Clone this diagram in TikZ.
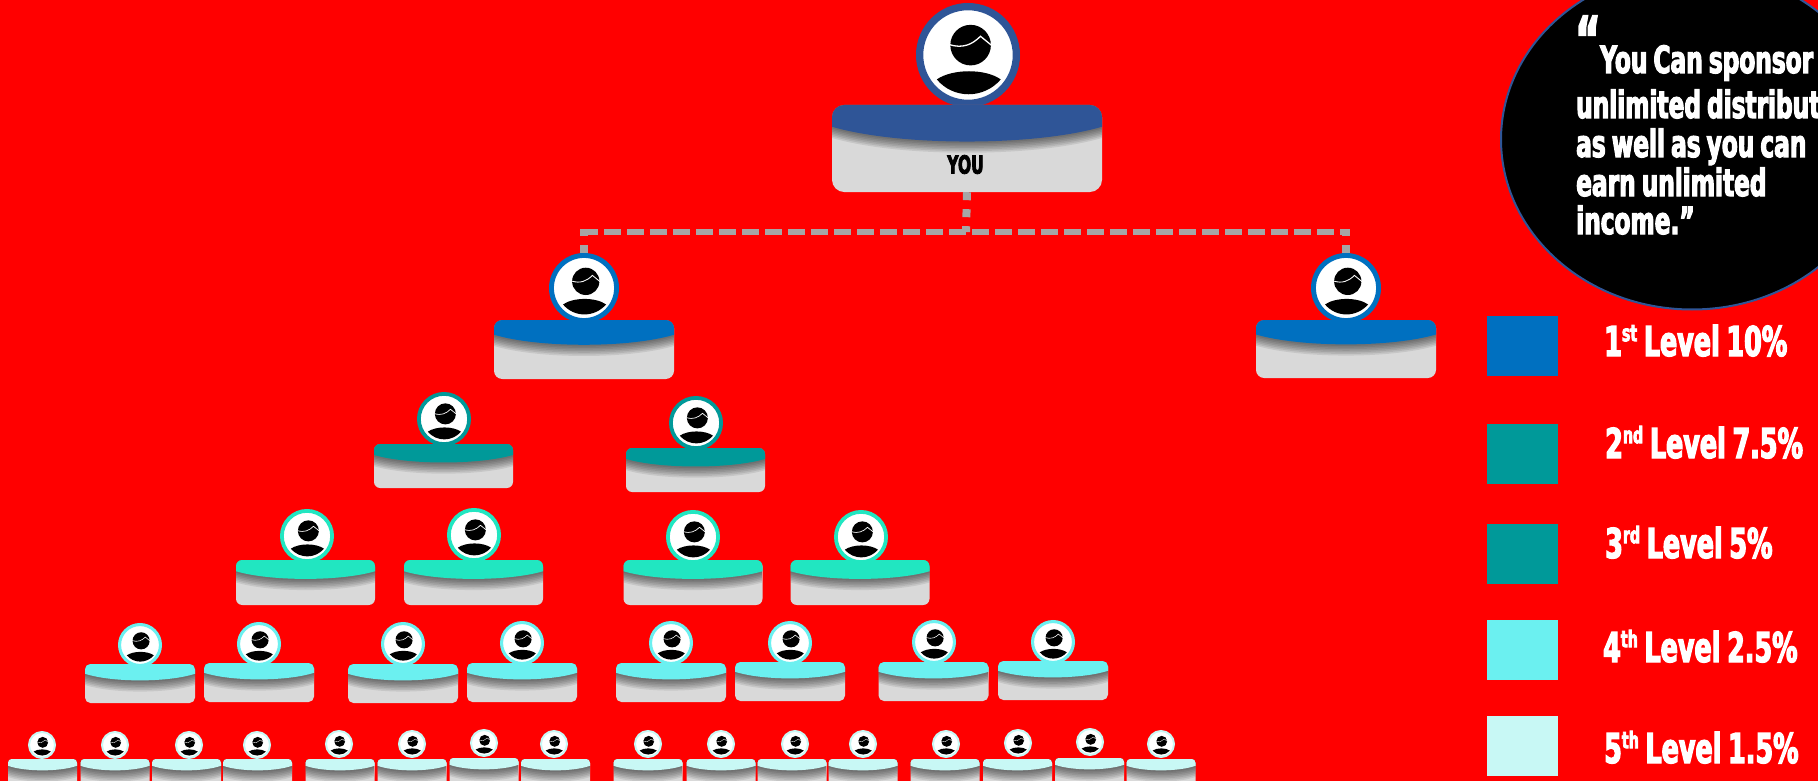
\documentclass[tikz,border=0pt]{standalone}
\usepackage{fontspec}
\usetikzlibrary{shapes.geometric}
\newfontfamily\impactfont[FakeStretch=0.62,FakeBold=3,WordSpace=0.75]{DejaVu Sans Bold}
\definecolor{bgred}{HTML}{FF0000}
\definecolor{topblue}{HTML}{2F5597}
\definecolor{levA}{HTML}{0070C0}
\definecolor{levB}{HTML}{009999}
\definecolor{levC}{HTML}{21E6C1}
\definecolor{levD}{HTML}{6BF0F0}
\definecolor{levE}{HTML}{C8F8F5}
\definecolor{cardgray}{HTML}{D9D9D9}
\definecolor{linkgray}{HTML}{A6A6A6}
\tikzset{
  cardbox/.style={fill=cardgray, inner sep=0pt},
  avatar/.style={circle, fill=white, inner sep=0pt},
  swatch/.style={inner sep=0pt, minimum width=71pt, minimum height=60pt},
  busline/.style={linkgray, line width=6pt, dash pattern=on 17pt off 6pt},
  dropline/.style={linkgray, line width=8pt, dash pattern=on 8pt off 9pt},
  quotetext/.style={anchor=base west, inner sep=0pt, text=white, font=\impactfont\fontsize{37.5}{37.5}\selectfont},
  legendtext/.style={anchor=base west, inner sep=0pt, text=white, font=\impactfont\fontsize{41}{41}\selectfont},
}
\newcommand{\lvsup}[1]{\raisebox{0.36em}{\fontsize{23}{23}\selectfont #1}}
% name, centre x, card top, width, height, avatar x, avatar y, avatar radius, colour
\newcommand{\member}[9]{%
  \pgfmathsetmacro{\bw}{max(1.5,0.14*#8)}
  \pgfmathsetmacro{\asize}{2*#8-\bw}
  \pgfmathsetmacro{\rc}{0.14*#5}
  \pgfmathsetmacro{\xa}{#2-#4/2}
  \pgfmathsetmacro{\xb}{#2+#4/2}
  \pgfmathsetmacro{\ys}{#3+0.25*#5}
  \pgfmathsetmacro{\yc}{#3+0.25*#5+0.17*#5/0.75}
  \pgfmathsetmacro{\xc}{#4/4}
  \node [avatar, draw=#9, line width=\bw pt, minimum size=\asize pt] (#1av) at (#6,#7) {};
  \begin{scope}[shift={(#1av.center)}, scale=#8]
    \fill (0.05,-0.19) circle (0.39);
    \draw[white, line width=0.025*#8 pt] (-0.36,-0.2) .. controls (-0.1,-0.12) and (0.08,-0.2) .. (0.24,-0.36) -- (0.46,-0.18);
    \fill (-0.6,0.47) .. controls (-0.3,0.26) and (0.34,0.26) .. (0.63,0.47) .. controls (0.3,0.85) and (-0.28,0.85) .. cycle;
  \end{scope}
  \node [cardbox, rounded corners=\rc pt, minimum width=#4 pt, minimum height=#5 pt] (#1) at (#2,#3+#5/2) {};
  \begin{scope}
    \clip [rounded corners=\rc pt] (\xa,#3) rectangle (\xb,#3+#5);
    \foreach \k in {1,...,7} {   %soft shadow under the band
      \fill[black, opacity=0.085] (\xa,#3) -- (\xb,#3) -- (\xb,\ys+1.6*\k) .. controls (\xb-\xc,\yc+1.6*\k) and (\xa+\xc,\yc+1.6*\k) .. (\xa,\ys+1.6*\k) -- cycle;
    }
  \end{scope}
  \fill[#9] (\xa,\ys) [rounded corners=\rc pt] -- (\xa,#3) -- (\xb,#3) [sharp corners] -- (\xb,\ys) .. controls (\xb-\xc,\yc) and (\xa+\xc,\yc) .. (\xa,\ys) -- cycle;
}

\begin{document}
\begin{tikzpicture}[x=1pt, y=-1pt]
  \useasboundingbox (0,0) rectangle (1818,781);
  \clip (0,0) rectangle (1818,781);
  \fill[bgred] (0,0) rectangle (1818,781);

  \member{you}{967}{105}{270}{87}{968}{55}{52}{topblue}
  \node [inner sep=0pt, font=\impactfont\fontsize{25}{25}\selectfont] (youtext) at (965.5,164.5) {YOU};

  \member{lvAa}{584}{320}{180}{59}{584}{288}{35}{levA}
  \member{lvAb}{1346}{320}{180}{58}{1346}{288}{35}{levA}

  \foreach \cx/\ctop/\ax/\ay [count=\i] in {443.5/444/444/419, 695.5/448/696/423} {   %second level
    \member{lvB\i}{\cx}{\ctop}{139}{44}{\ax}{\ay}{27}{levB}
  }
  \foreach \cx/\ctop/\ax/\ay [count=\i] in {305.5/560/307/536, 473.5/560/474/535, 693/560/693/537, 860/560/861/537} {   %third level
    \member{lvC\i}{\cx}{\ctop}{139}{45}{\ax}{\ay}{27}{levC}
  }
  \foreach \cx/\ctop/\ax/\ay [count=\i] in {140/664/140/645, 259/663/259/644, 403/664/403/644, 522/663/522/643,
                                        671/663/671/643, 790/662/790/643, 933.5/662/934/642, 1053/661/1053/642} {   %fourth level
    \member{lvD\i}{\cx}{\ctop}{110}{39}{\ax}{\ay}{22}{levD}
  }
  \foreach \cx/\ctop/\ax/\ay [count=\i] in {42.5/759/42/745, 115/759/115/745, 186.5/759/189/745, 257.5/759/257/745,
                                        340/759/339/744, 412/759/412/744, 484/758/484/743, 555.5/759/554/744,
                                        648/759/648/744, 721/759/721/744, 792/759/795/744, 863/759/863/744,
                                        945/759/946/744, 1017.5/759/1018/743, 1089.5/758/1090/742, 1161/759/1161/744} {   %fifth level, cut by the page edge
    \member{lvE\i}{\cx}{\ctop}{69}{27}{\ax}{\ay}{14}{levE}
  }

  %links under the top card
  \coordinate (busmid) at (966,232);
  \coordinate (busleft) at (581,232);
  \coordinate (busright) at (1350,232);
  \coordinate (dropleft) at (584,229);
  \coordinate (dropright) at (1346,229);
  \draw[busline] (busleft) -- (busright);
  \draw[dropline] (you.south) -- (busmid);
  \draw[dropline] (lvAaav.north) -- (dropleft);
  \draw[dropline] (lvAbav.north) -- (dropright);

  \node [ellipse, draw=topblue, fill=black, line width=2pt, inner sep=0pt, minimum width=382pt, minimum height=340pt] (bubble) at (1692,139.5) {};
  \node [quotetext, font=\impactfont\fontsize{62}{62}\selectfont] (quotemark) at (1575,61) {“};
  \foreach \tx/\ty/\line [count=\i] in {1600/73/You Can sponsor, 1576/118/unlimited distribut, 1576/157/as well as you can,
                                        1576/196/earn unlimited, 1576/234/income.”} {   %one node for each line of the quote
    \node [quotetext] (quote\i) at (\tx,\ty) {\line};
  }

  \foreach \ly/\col [count=\i] in {316/levA, 424/levB, 524/levB, 620/levD, 716/levE} {   %colour keys
    \node [swatch, anchor=north west, fill=\col] (key\i) at (1487,\ly) {};
  }
  \node [legendtext] (lab1) at (1604,356) {1\lvsup{st} Level 10\%};
  \node [legendtext] (lab2) at (1605,458) {2\lvsup{nd} Level 7.5\%};
  \node [legendtext] (lab3) at (1605,558) {3\lvsup{rd} Level 5\%};
  \node [legendtext] (lab4) at (1603,662) {4\lvsup{th} Level 2.5\%};
  \node [legendtext] (lab5) at (1604,763) {5\lvsup{th} Level 1.5\%};
\end{tikzpicture}
\end{document}
